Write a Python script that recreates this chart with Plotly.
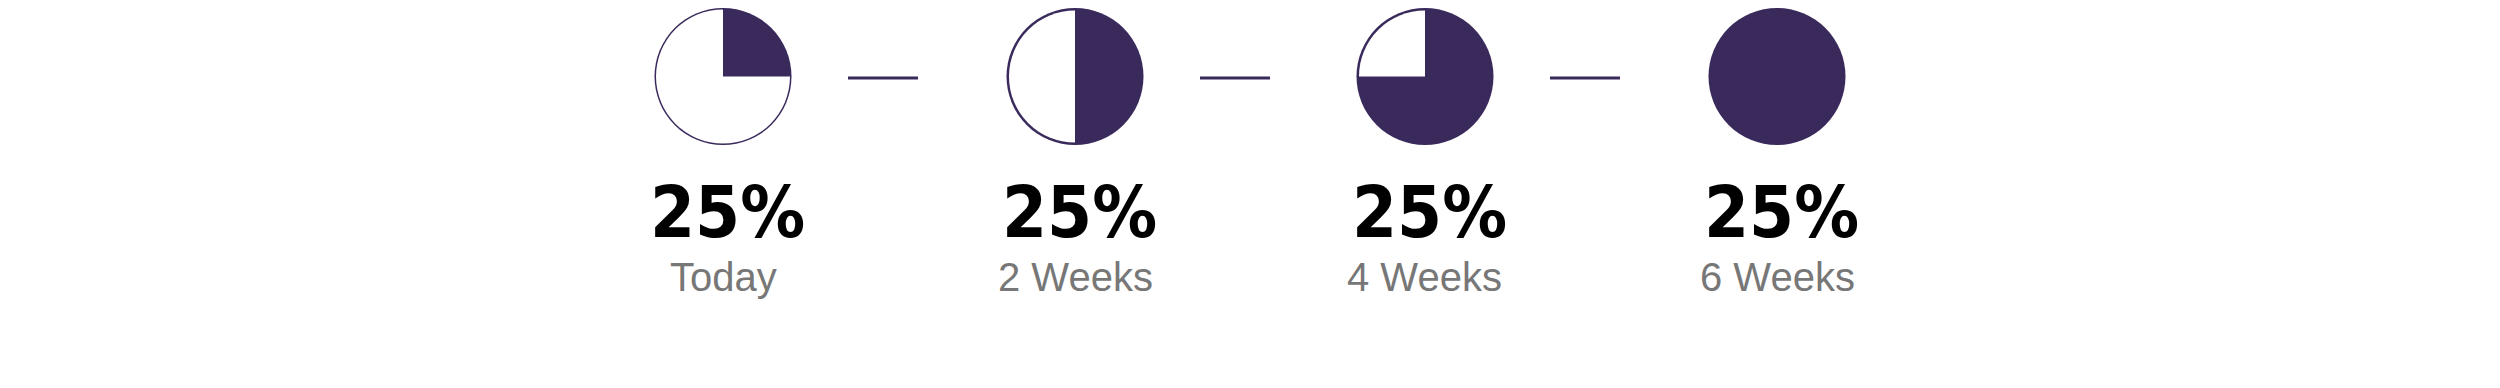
import plotly.graph_objects as go

# ---- data ----
stages = ["Today", "2 Weeks", "4 Weeks", "6 Weeks"]
filled_share = [25, 50, 75, 100]
value_labels = ["25%", "25%", "25%", "25%"]

# ---- layout constants ----
W, H = 2500, 388
PURPLE = "#3a2a5c"
centers_px = [723, 1075, 1425, 1777]
cy_px = 76.5
r_px = 68.5
outline_w = [1.5, 2.5, 2.5, 2.5]


def dom(cx, r):
    return dict(x=[(cx - r) / W, (cx + r) / W],
                y=[(H - cy_px - r) / H, (H - cy_px + r) / H])


fig = go.Figure()

# outline rings: full purple disk behind each pie (fill only -> smooth edge)
for i, st in enumerate(stages):
    fig.add_trace(go.Pie(
        values=[1], labels=["ring"], sort=False, textinfo="none",
        hoverinfo="skip", showlegend=False,
        marker=dict(colors=[PURPLE], line=dict(width=0)),
        domain=dom(centers_px[i], r_px),
    ))

for i, (st, fs) in enumerate(zip(stages, filled_share)):
    cx = centers_px[i]
    fig.add_trace(go.Pie(
        values=[fs, 100 - fs],
        labels=["filled", "empty"],
        sort=False,
        direction="clockwise",
        rotation=0,
        textinfo="none",
        hoverinfo="skip",
        showlegend=False,
        marker=dict(colors=[PURPLE, "white"], line=dict(width=0)),
        domain=dom(cx, r_px - outline_w[i]),
        name=st,
    ))
    fig.add_annotation(
        x=(cx + 4) / W, y=1 - 212 / H, xref="paper", yref="paper",
        text="<b>" + value_labels[i] + "</b>", showarrow=False,
        xanchor="center", yanchor="middle",
        font=dict(family="DejaVu Sans Condensed, Liberation Sans Narrow, Liberation Sans",
                  size=72, color="black"),
    )
    fig.add_annotation(
        x=cx / W, y=1 - 277 / H, xref="paper", yref="paper",
        text=st, showarrow=False, xanchor="center", yanchor="middle",
        font=dict(family="Liberation Sans, Arial", size=40, color="#777777"),
    )

# connector lines between consecutive pies
for i in range(len(stages) - 1):
    lc = centers_px[i] + 160
    fig.add_shape(type="line", xref="paper", yref="paper",
                  x0=(lc - 35) / W, x1=(lc + 35) / W,
                  y0=1 - 78 / H, y1=1 - 78 / H,
                  line=dict(color=PURPLE, width=3))

fig.update_layout(
    width=W, height=H,
    margin=dict(l=0, r=0, t=0, b=0),
    paper_bgcolor="white", plot_bgcolor="white",
)

fig.write_html("out.html")
